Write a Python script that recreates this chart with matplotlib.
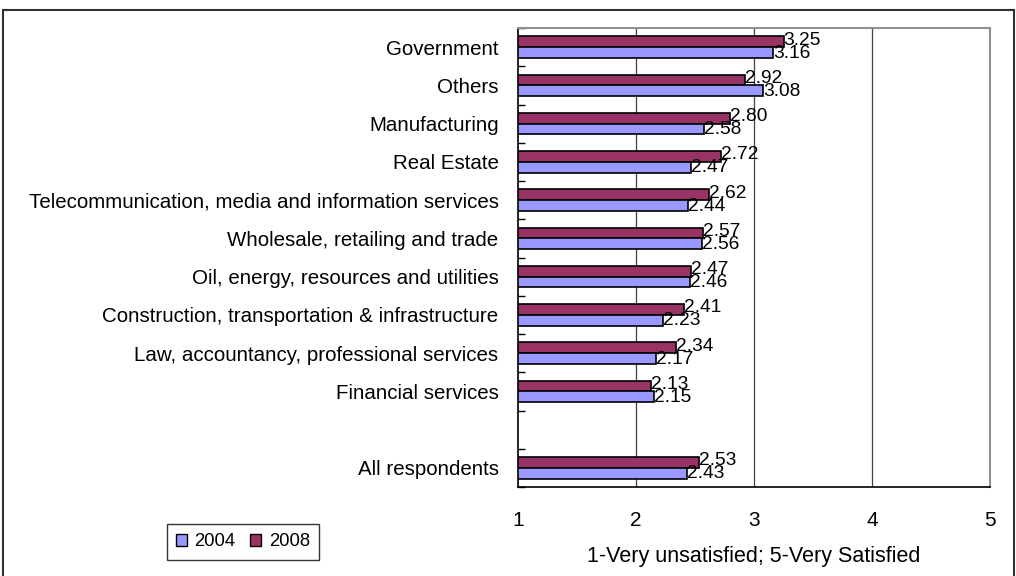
import numpy as np
import matplotlib.pyplot as plt
from matplotlib.patches import Rectangle

plt.rcParams['font.family'] = ['Liberation Sans', 'DejaVu Sans']

# sectors, top to bottom; None leaves an empty slot
sectors = [
    "Government",
    "Others",
    "Manufacturing",
    "Real Estate",
    "Telecommunication, media and information services",
    "Wholesale, retailing and trade",
    "Oil, energy, resources and utilities",
    "Construction, transportation & infrastructure",
    "Law, accountancy, professional services",
    "Financial services",
    None,
    "All respondents",
]
score_2004 = [3.16, 3.08, 2.58, 2.47, 2.44, 2.56, 2.46, 2.23, 2.17, 2.15, None, 2.43]
score_2008 = [3.25, 2.92, 2.80, 2.72, 2.62, 2.57, 2.47, 2.41, 2.34, 2.13, None, 2.53]
x_ticks = [1, 2, 3, 4, 5]

c2004 = "#9999FF"
c2008 = "#993366"

fig = plt.figure(figsize=(10.16, 5.76), dpi=100)
ax = fig.add_axes([518 / 1016, 1 - 487 / 576, 472 / 1016, 459 / 576])

n = len(sectors)
pos = np.arange(n)[::-1]  # first sector at top
h = 0.28
xmin = x_ticks[0]

for p, s, a, b in zip(pos, sectors, score_2004, score_2008):
    if s is None:
        continue
    ax.barh(p + h / 2, b - xmin, left=xmin, height=h, color=c2008,
            edgecolor="black", linewidth=1.2, zorder=3)
    ax.barh(p - h / 2, a - xmin, left=xmin, height=h, color=c2004,
            edgecolor="black", linewidth=1.2, zorder=3)
    ax.text(b, p + h / 2 + 0.04, f"{b:.2f}", ha="left", va="center", fontsize=13.8, zorder=4)
    ax.text(a, p - h / 2 - 0.02, f"{a:.2f}", ha="left", va="center", fontsize=13.8, zorder=4)

ax.set_xlim(x_ticks[0], x_ticks[-1])
ax.set_ylim(-0.5, n - 0.5)
ax.set_xticks(x_ticks)
ax.set_xticklabels([str(t) for t in x_ticks], fontsize=15)
ax.tick_params(axis="x", length=0, pad=17)
for t in x_ticks[1:-1]:
    ax.axvline(t, color="#404040", linewidth=0.9, zorder=1)

# category labels, ticks between slots
ax.set_yticks(pos)
ax.set_yticklabels([s if s else "" for s in sectors], fontsize=14.8)
ax.tick_params(axis="y", which="major", length=0, pad=14)
ax.set_yticks(np.arange(n + 1) - 0.5, minor=True)
ax.tick_params(axis="y", which="minor", direction="in", length=5, width=1)

for side in ["left", "bottom"]:
    ax.spines[side].set_color("black")
    ax.spines[side].set_linewidth(1.2)
for side in ["top", "right"]:
    ax.spines[side].set_color("#909090")
    ax.spines[side].set_linewidth(1.5)

ax.set_xlabel("1-Very unsatisfied; 5-Very Satisfied", fontsize=15.5, labelpad=12)

handles = [Rectangle((0, 0), 1, 1, facecolor=c2004, edgecolor="black"),
           Rectangle((0, 0), 1, 1, facecolor=c2008, edgecolor="black")]
leg = fig.legend(handles, ["2004", "2008"], loc="center", ncol=2,
                 bbox_to_anchor=(243 / 1016, 1 - 542 / 576), fontsize=13.3,
                 frameon=True, fancybox=False, handlelength=0.6, handleheight=0.6,
                 handletextpad=0.4, columnspacing=0.8, borderpad=0.5)
leg.get_frame().set_edgecolor("black")
leg.get_frame().set_linewidth(1.0)

# outer chart border
fig.patches.append(Rectangle((3 / 1016, -0.01), 1011 / 1016, 1 - 10 / 576 + 0.01,
                             transform=fig.transFigure, fill=False,
                             edgecolor="#303030", linewidth=1.5))

fig.savefig("out.png", dpi=100)
